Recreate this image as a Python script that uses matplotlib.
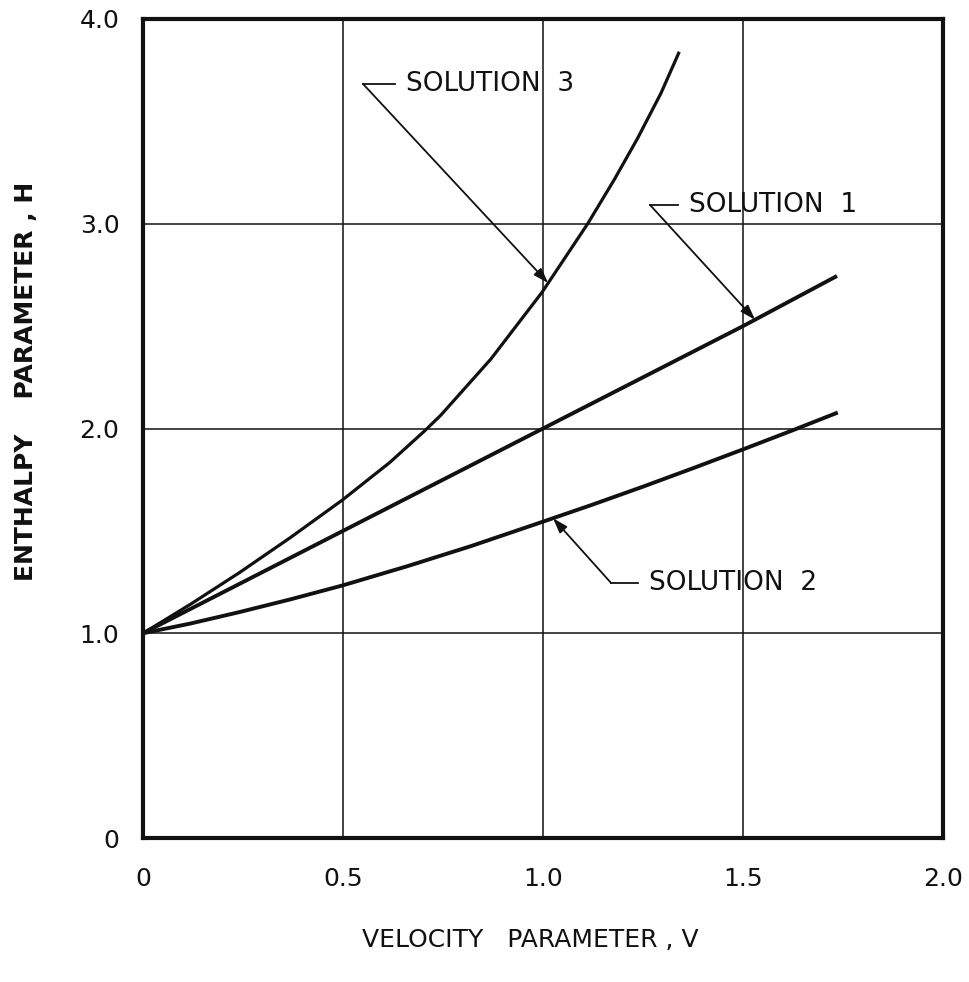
import matplotlib
matplotlib.use('Agg')
import matplotlib.pyplot as plt
import numpy as np

# ── Curve data (velocity parameter V vs enthalpy parameter H) ────────────────
sol1_v = [0.0, 0.50, 1.00, 1.50, 1.735]
sol1_h = [1.0, 1.50, 2.00, 2.50, 2.745]

sol2_v = [0.0, 0.1175, 0.2425, 0.3675, 0.498, 0.66, 0.8175, 1.00, 1.125,
          1.25, 1.375, 1.50, 1.62, 1.737]
sol2_h = [1.0, 1.047, 1.104, 1.165, 1.233, 1.327, 1.424, 1.545, 1.629,
          1.716, 1.806, 1.898, 1.988, 2.078]

sol3_v = [0.0, 0.1175, 0.2425, 0.3675, 0.498, 0.6175, 0.705, 0.745, 0.87,
          0.9975, 1.1117, 1.178, 1.2367, 1.295, 1.3407]
sol3_h = [1.0, 1.14, 1.298, 1.466, 1.650, 1.835, 1.99, 2.066, 2.34,
          2.665, 3.0, 3.215, 3.418, 3.638, 3.84]

x_ticks = [0, 0.5, 1.0, 1.5, 2.0]
x_tick_labels = ['0', '0.5', '1.0', '1.5', '2.0']
y_ticks = [0, 1, 2, 3, 4]
y_tick_labels = ['0', '1.0', '2.0', '3.0', '4.0']

# label text, leader corner (V, H), stub length, V where the arrow meets the curve
labels = [
    ('SOLUTION  3', (0.55, 3.683), 0.08, 1.013, sol3_v, sol3_h),
    ('SOLUTION  1', (1.2675, 3.092), 0.07, 1.53, sol1_v, sol1_h),
    ('SOLUTION  2', (1.17, 1.246), 0.0675, 1.025, sol2_v, sol2_h),
]

FONT = 'DejaVu Sans'
INK = '#111111'

fig = plt.figure(figsize=(9.7, 9.82), dpi=100, facecolor='white')
ax = fig.add_axes([143 / 970, 144 / 982, 800 / 970, 819 / 982])

ax.set_xlim(0, 2.0)
ax.set_ylim(0, 4.0)

# grid
ax.set_xticks(x_ticks)
ax.set_yticks(y_ticks)
ax.grid(True, color=INK, linewidth=1.1)
ax.set_axisbelow(True)

for s in ax.spines.values():
    s.set_linewidth(3.0)
    s.set_color(INK)

ax.set_xticklabels(x_tick_labels, fontsize=18, family=FONT)
ax.set_yticklabels(y_tick_labels, fontsize=18, family=FONT)
ax.tick_params(axis='x', length=0, pad=21, colors=INK)
ax.tick_params(axis='y', length=0, pad=17, colors=INK)

# curves
ax.plot(sol1_v, sol1_h, color=INK, linewidth=2.8, solid_capstyle='butt')
ax.plot(sol2_v, sol2_h, color=INK, linewidth=2.8, solid_capstyle='butt')
ax.plot(sol3_v, sol3_h, color=INK, linewidth=2.3, solid_capstyle='butt')

# leaders with arrows
for text, (cx, cy), stub, tip_v, vs, hs in labels:
    tip_h = np.interp(tip_v, vs, hs)
    ax.annotate('', xy=(tip_v, tip_h), xytext=(cx, cy),
                arrowprops=dict(arrowstyle='-|>,head_length=0.9,head_width=0.3',
                                color=INK, linewidth=1.3, shrinkA=0, shrinkB=0))
    ax.plot([cx, cx + stub], [cy, cy], color=INK, linewidth=1.3)
    ax.text(cx + stub + 0.028, cy, text, fontsize=19, family=FONT, color=INK,
            ha='left', va='center')

ax.set_xlabel('VELOCITY   PARAMETER , V', fontsize=18, family=FONT, color=INK)
ax.xaxis.set_label_coords(0.484, -0.11)
ax.set_ylabel('ENTHALPY    PARAMETER , H', fontsize=18, family=FONT,
              fontweight='bold', color=INK)
ax.yaxis.set_label_coords(-0.131, 0.557)

fig.savefig('out.png', dpi=100, facecolor='white')
